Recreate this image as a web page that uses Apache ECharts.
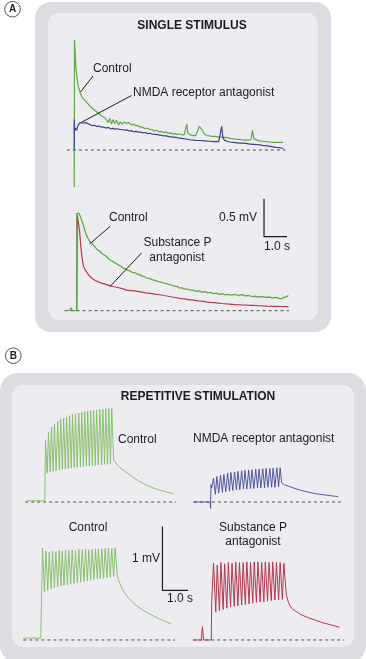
<!DOCTYPE html>
<html>
<head>
<meta charset="utf-8">
<script src="https://cdn.jsdelivr.net/npm/echarts@6/dist/echarts.min.js"></script>
<style>html,body{margin:0;padding:0;background:#fff}#c{width:366px;height:659px}</style>
</head>
<body>
<div id="c"></div>
<script>
// ---------- DATA (time in s, potential in mV) ----------
// Panel A, single stimulus, upper traces
const aControlUpper = [[0.62,0],[0.62,-0.49],[0.63,1.45],[0.70,1.05],[0.78,0.86],[0.87,0.76],[0.95,0.70],[1.03,0.67],[1.10,0.65],[1.18,0.62],[1.26,0.60],[1.33,0.57],[1.40,0.55],[1.48,0.53],[1.56,0.51],[1.64,0.49],[1.72,0.48],[1.80,0.45],[1.88,0.45],[1.96,0.42],[2.04,0.43],[2.10,0.36],[2.16,0.42],[2.24,0.34],[2.30,0.40],[2.38,0.35],[2.46,0.39],[2.54,0.33],[2.62,0.37],[2.70,0.34],[2.80,0.37],[2.90,0.35],[3.00,0.36],[3.10,0.33],[3.20,0.34],[3.30,0.32],[3.40,0.32],[3.50,0.30],[3.60,0.30],[3.70,0.28],[3.80,0.29],[3.90,0.27],[4.00,0.27],[4.10,0.25],[4.20,0.26],[4.30,0.24],[4.40,0.245],[4.50,0.23],[4.60,0.235],[4.70,0.22],[4.80,0.225],[4.90,0.21],[5.00,0.215],[5.10,0.205],[5.20,0.21],[5.30,0.20],[5.40,0.20],[5.46,0.21],[5.51,0.34],[5.56,0.22],[5.62,0.20],[5.70,0.195],[5.80,0.19],[5.90,0.19],[5.98,0.20],[6.06,0.31],[6.10,0.33],[6.18,0.26],[6.28,0.21],[6.40,0.19],[6.50,0.185],[6.60,0.18],[6.75,0.18],[6.90,0.17],[7.00,0.17],[7.15,0.165],[7.30,0.16],[7.45,0.15],[7.60,0.145],[7.75,0.14],[7.90,0.135],[8.05,0.13],[8.20,0.13],[8.30,0.135],[8.37,0.26],[8.42,0.15],[8.50,0.125],[8.65,0.12],[8.80,0.115],[8.95,0.11],[9.10,0.105],[9.25,0.10],[9.40,0.10],[9.55,0.10],[9.70,0.10]];
const aNmdaUpper = [[0.62,0],[0.62,0.40],[0.64,0.25],[0.66,0.29],[0.72,0.26],[0.78,0.32],[0.87,0.36],[0.95,0.37],[1.03,0.355],[1.12,0.36],[1.20,0.34],[1.30,0.335],[1.40,0.32],[1.50,0.325],[1.60,0.31],[1.70,0.315],[1.80,0.30],[1.90,0.30],[2.00,0.29],[2.10,0.295],[2.20,0.28],[2.30,0.285],[2.40,0.275],[2.50,0.28],[2.60,0.27],[2.70,0.27],[2.80,0.26],[2.90,0.265],[3.00,0.25],[3.10,0.255],[3.20,0.24],[3.30,0.245],[3.40,0.235],[3.50,0.235],[3.60,0.225],[3.70,0.23],[3.80,0.215],[3.90,0.22],[4.00,0.21],[4.15,0.205],[4.30,0.20],[4.45,0.19],[4.60,0.185],[4.75,0.175],[4.90,0.17],[5.05,0.165],[5.20,0.155],[5.35,0.15],[5.50,0.145],[5.65,0.135],[5.80,0.13],[5.95,0.125],[6.10,0.125],[6.30,0.12],[6.50,0.115],[6.70,0.11],[6.90,0.11],[6.98,0.13],[7.03,0.31],[7.08,0.17],[7.14,0.13],[7.25,0.115],[7.40,0.105],[7.55,0.10],[7.70,0.095],[7.85,0.09],[8.00,0.09],[8.20,0.08],[8.40,0.075],[8.60,0.07],[8.80,0.06],[9.00,0.055],[9.20,0.045],[9.40,0.035],[9.55,0.03],[9.71,0.02]];
const aBaselineUpper = [0.3, 9.8];
// Panel A, lower traces
const aControlLower = [[0.35,0],[0.45,0.01],[0.49,0.04],[0.53,0.0],[0.72,0.0],[0.73,1.28],[0.83,1.28],[0.91,1.22],[1.01,1.13],[1.13,1.01],[1.22,0.95],[1.30,0.91],[1.40,0.88],[1.52,0.84],[1.63,0.80],[1.74,0.78],[1.87,0.74],[2.00,0.72],[2.12,0.68],[2.22,0.66],[2.32,0.645],[2.45,0.62],[2.55,0.60],[2.65,0.585],[2.75,0.56],[2.85,0.55],[2.95,0.53],[3.05,0.525],[3.15,0.50],[3.26,0.50],[3.36,0.48],[3.46,0.475],[3.56,0.455],[3.66,0.45],[3.76,0.43],[3.88,0.425],[4.00,0.41],[4.12,0.40],[4.24,0.385],[4.35,0.38],[4.47,0.365],[4.59,0.36],[4.70,0.35],[4.82,0.34],[4.95,0.325],[5.07,0.32],[5.19,0.30],[5.31,0.30],[5.43,0.285],[5.55,0.285],[5.67,0.27],[5.80,0.27],[5.92,0.255],[6.05,0.26],[6.17,0.245],[6.30,0.25],[6.42,0.235],[6.55,0.24],[6.68,0.225],[6.80,0.23],[6.93,0.215],[7.05,0.225],[7.18,0.21],[7.30,0.215],[7.45,0.205],[7.60,0.215],[7.75,0.20],[7.90,0.21],[8.05,0.195],[8.20,0.20],[8.35,0.185],[8.50,0.19],[8.65,0.18],[8.80,0.185],[8.95,0.175],[9.10,0.18],[9.25,0.17],[9.40,0.175],[9.55,0.16],[9.65,0.16],[9.75,0.175],[9.85,0.185],[9.93,0.20]];
const aSubPLower = [[0.73,0],[0.75,1.26],[0.80,1.26],[0.85,1.05],[0.90,0.86],[0.95,0.72],[1.01,0.60],[1.07,0.55],[1.13,0.52],[1.22,0.48],[1.30,0.45],[1.41,0.42],[1.52,0.40],[1.63,0.385],[1.74,0.37],[1.95,0.35],[2.17,0.33],[2.35,0.315],[2.52,0.305],[2.70,0.29],[2.90,0.27],[3.08,0.265],[3.26,0.26],[3.44,0.25],[3.62,0.24],[3.81,0.23],[4.00,0.225],[4.17,0.215],[4.35,0.21],[4.52,0.20],[4.70,0.19],[4.88,0.18],[5.07,0.17],[5.25,0.16],[5.43,0.155],[5.60,0.145],[5.80,0.14],[6.00,0.13],[6.17,0.125],[6.35,0.115],[6.52,0.11],[6.70,0.105],[6.87,0.10],[7.05,0.095],[7.25,0.09],[7.60,0.08],[7.97,0.075],[8.35,0.07],[8.70,0.065],[9.00,0.06],[9.35,0.058],[9.65,0.055],[9.93,0.053]];
const aBaselineLower = [0.2, 9.95];
const aScaleBar = [[8.87,1.474],[8.87,0.974],[9.87,0.974]]; // 0.5 mV, 1.0 s

// Panel B, repetitive stimulation
// top-left: control
const b1Pre = [[0.18,0.02],[0.67,0.02]];
const b1PeakT = [0.69,0.77,0.85,0.93,1.02,1.10,1.18,1.26,1.34,1.42,1.50,1.59,1.67,1.75,1.83,1.91,1.99,2.07,2.16,2.24,2.32,2.40,2.48];
const b1PeakV = [0.96,1.09,1.17,1.22,1.26,1.29,1.31,1.33,1.35,1.37,1.38,1.39,1.40,1.41,1.42,1.43,1.43,1.44,1.45,1.45,1.46,1.46,1.46];
const b1TroughT = [0.735,0.815,0.895,0.975,1.065,1.145,1.225,1.305,1.385,1.465,1.545,1.635,1.715,1.795,1.875,1.955,2.035,2.115,2.205,2.285,2.365,2.445];
const b1TroughV = [0.45,0.47,0.48,0.49,0.50,0.51,0.52,0.52,0.53,0.54,0.54,0.55,0.55,0.56,0.56,0.57,0.57,0.58,0.58,0.59,0.59,0.60];
const b1Tail = [[2.53,0.66],[2.60,0.60],[2.70,0.54],[2.85,0.47],[3.00,0.41],[3.20,0.33],[3.40,0.27],[3.60,0.22],[3.80,0.18],[4.00,0.15],[4.15,0.13]];
const b1Baseline = [0.14, 4.22];
// top-right: NMDA receptor antagonist
const b2Pre = [[0.14,0.0],[0.60,0.0],[0.61,-0.10],[0.62,0.27],[0.64,0.22]];
const b2PeakT = [0.69,0.78,0.88,0.97,1.07,1.16,1.26,1.35,1.45,1.54,1.64,1.73,1.83,1.92,2.02,2.11,2.21,2.30,2.40,2.49];
const b2PeakV = [0.37,0.40,0.42,0.43,0.45,0.46,0.47,0.48,0.49,0.495,0.50,0.505,0.51,0.515,0.52,0.525,0.525,0.53,0.535,0.535];
const b2TroughT = [0.74,0.83,0.93,1.02,1.12,1.21,1.31,1.40,1.50,1.59,1.69,1.78,1.88,1.97,2.07,2.16,2.26,2.35,2.45];
const b2TroughV = [0.12,0.14,0.15,0.16,0.17,0.18,0.19,0.19,0.20,0.20,0.21,0.21,0.22,0.22,0.22,0.23,0.23,0.23,0.24];
const b2Tail = [[2.53,0.30],[2.60,0.27],[2.75,0.24],[2.95,0.20],[3.20,0.16],[3.45,0.13],[3.70,0.11],[3.90,0.095],[4.06,0.085]];
const b2Baseline = [0.16, 4.19];
// bottom-left: control
const b3Pre = [[0.09,0.03],[0.56,0.03]];
const b3PeakT = [0.61,0.70,0.79,0.88,0.97,1.06,1.14,1.23,1.32,1.41,1.50,1.59,1.68,1.77,1.86,1.95,2.04,2.12,2.21,2.30,2.39,2.48,2.57];
const b3PeakV = [1.45,1.40,1.38,1.40,1.39,1.41,1.40,1.42,1.41,1.42,1.41,1.43,1.42,1.43,1.42,1.43,1.44,1.43,1.44,1.44,1.45,1.44,1.45];
const b3TroughT = [0.66,0.75,0.84,0.93,1.02,1.11,1.19,1.28,1.37,1.46,1.55,1.64,1.73,1.82,1.91,2.00,2.09,2.17,2.26,2.35,2.44,2.53];
const b3TroughV = [0.76,0.78,0.80,0.82,0.84,0.85,0.86,0.87,0.88,0.89,0.90,0.91,0.92,0.93,0.94,0.95,0.96,0.97,0.97,0.98,0.99,1.00];
const b3Tail = [[2.63,1.00],[2.68,0.92],[2.75,0.82],[2.85,0.72],[3.00,0.62],[3.15,0.54],[3.35,0.46],[3.60,0.38],[3.85,0.31],[4.10,0.25]];
const b3Baseline = [0.09, 4.19];
const bScaleBar = [[3.85,1.79],[3.85,0.78],[4.85,0.78]]; // 1 mV, 1.0 s
// bottom-right: substance P antagonist
const b4Pre = [[0.14,0.0],[0.36,0.0],[0.39,0.21],[0.42,0.0],[0.63,0.0],[0.64,0.6]];
const b4PeakT = [0.69,0.79,0.89,0.99,1.09,1.19,1.29,1.39,1.49,1.59,1.69,1.79,1.89,1.99,2.09,2.19,2.29,2.39,2.49,2.59];
const b4PeakV = [1.21,1.18,1.22,1.20,1.22,1.21,1.23,1.22,1.22,1.23,1.22,1.23,1.23,1.22,1.23,1.22,1.23,1.22,1.22,1.21];
const b4TroughT = [0.75,0.85,0.95,1.05,1.15,1.25,1.35,1.45,1.55,1.65,1.75,1.85,1.95,2.05,2.15,2.25,2.35,2.45,2.55];
const b4TroughV = [0.44,0.46,0.48,0.50,0.52,0.53,0.54,0.55,0.56,0.57,0.58,0.59,0.60,0.60,0.61,0.62,0.63,0.63,0.64];
const b4Tail = [[2.66,0.70],[2.72,0.58],[2.80,0.50],[2.92,0.45],[3.05,0.40],[3.25,0.35],[3.45,0.31],[3.65,0.27],[3.85,0.24],[4.10,0.20]];
const b4Baseline = [0.14, 4.22];

// ---------- BUILD ----------
function train(pre, pT, pV, tT, tV, tail) {
  const d = pre.slice();
  for (let i = 0; i < pT.length; i++) {
    d.push([pT[i], pV[i]]);
    if (i < tT.length) d.push([tT[i], tV[i]]);
  }
  return d.concat(tail);
}
function base(r) { return [[r[0], 0], [r[1], 0]]; }

const FONT = '"Liberation Sans", Arial, Helvetica, sans-serif';
const C = {
  aGreen: '#5fa845', blue: '#3b3f8e', red: '#b3394c',
  bGreen: '#80bc62', bBlue: '#434894', bRed: '#b5384d', dash: '#4a4a4a', ink: '#1c1c1c'
};

const grids = [
  {left: 60, top: 36, width: 230, height: 152},      // A upper
  {left: 60, top: 189.1, width: 230, height: 136.8}, // A lower
  {left: 20, top: 406, width: 166.5, height: 115.2},  // B top-left
  {left: 188, top: 406, width: 166.5, height: 115.2}, // B top-right
  {left: 20, top: 519.4, width: 166.5, height: 140.8},// B bottom-left
  {left: 188, top: 519.4, width: 166.5, height: 140.8}// B bottom-right
];
const xr = [[0,10],[0,10],[0,4.5],[0,4.5],[0,4.5],[0,4.5]];
const yr = [[-0.5,1.5],[-0.2,1.6],[-0.3,1.5],[-0.3,1.5],[-0.3,1.9],[-0.3,1.9]];

function ln(idx, data, color, w, extra) {
  return Object.assign({
    type: 'line', xAxisIndex: idx, yAxisIndex: idx, data: data, symbol: 'none',
    lineStyle: {color: color, width: w}, silent: true, animation: false, z: 3
  }, extra || {});
}
function dashed(idx, r) {
  return ln(idx, base(r), C.dash, 1, {lineStyle: {color: C.dash, width: 1, type: [3, 3]}, z: 2});
}

const series = [
  dashed(0, aBaselineUpper),
  ln(0, aControlUpper, C.aGreen, 1.2),
  ln(0, aNmdaUpper, C.blue, 1.2),
  dashed(1, aBaselineLower),
  ln(1, aSubPLower, C.red, 1.2),
  ln(1, aControlLower, C.aGreen, 1.3),
  ln(1, aScaleBar, C.ink, 1.2),
  dashed(2, b1Baseline),
  ln(2, train(b1Pre, b1PeakT, b1PeakV, b1TroughT, b1TroughV, b1Tail), C.bGreen, 0.9),
  dashed(3, b2Baseline),
  ln(3, train(b2Pre, b2PeakT, b2PeakV, b2TroughT, b2TroughV, b2Tail), C.bBlue, 0.9),
  dashed(4, b3Baseline),
  ln(4, train(b3Pre, b3PeakT, b3PeakV, b3TroughT, b3TroughV, b3Tail), C.bGreen, 0.9),
  ln(4, bScaleBar, C.ink, 1.2),
  dashed(5, b4Baseline),
  ln(5, train(b4Pre, b4PeakT, b4PeakV, b4TroughT, b4TroughV, b4Tail), C.bRed, 1)
];

function txt(x, y, s, align, bold) {
  return {type: 'text', x: x, y: y, z: 100, silent: true,
    style: {text: s, font: (bold ? 'bold ' : '') + '12px ' + FONT, fill: C.ink,
      align: align || 'left', verticalAlign: 'middle', textAlign: align || 'left', textVerticalAlign: 'middle'}};
}
function seg(x1, y1, x2, y2) {
  return {type: 'line', z: 100, silent: true, shape: {x1: x1, y1: y1, x2: x2, y2: y2},
    style: {stroke: C.ink, lineWidth: 1}};
}
function rrect(x, y, w, h, r, fill, z) {
  return {type: 'rect', z: z, silent: true, shape: {x: x, y: y, width: w, height: h, r: r}, style: {fill: fill}};
}
function badge(cx, cy, s) {
  return [
    {type: 'circle', z: 100, silent: true, shape: {cx: cx, cy: cy, r: 7.8}, style: {fill: '#fff', stroke: '#555', lineWidth: 1}},
    {type: 'text', x: cx, y: cy + 0.5, z: 101, silent: true,
      style: {text: s, font: 'bold 10px ' + FONT, fill: C.ink, align: 'center', verticalAlign: 'middle', textAlign: 'center', textVerticalAlign: 'middle'}}
  ];
}

const graphic = [
  rrect(35, 2, 296, 330, 16, '#dcdce1', -20),
  rrect(48, 13, 270, 307, 11, '#ededf1', -19),
  rrect(0, 373, 366, 290, 18, '#dcdce1', -20),
  rrect(12, 385, 342, 262, 11, '#ededf1', -19),
  ...badge(12.5, 9.2, 'A'),
  ...badge(13.3, 355.7, 'B'),
  txt(192, 26, 'SINGLE STIMULUS', 'center', true),
  txt(198, 397, 'REPETITIVE STIMULATION', 'center', true),
  txt(93, 68.5, 'Control'),
  seg(93, 76, 80.5, 92),
  txt(133, 93, 'NMDA receptor antagonist'),
  seg(131.5, 95.5, 82, 122),
  txt(109, 218, 'Control'),
  seg(110, 226.5, 89.5, 244),
  txt(177.5, 243, 'Substance P', 'center'),
  txt(177, 257.5, 'antagonist', 'center'),
  seg(141.5, 253, 110, 286.5),
  txt(257, 218, '0.5 mV', 'right'),
  txt(277, 247, '1.0 s', 'center'),
  txt(118, 440, 'Control'),
  txt(193, 439, 'NMDA receptor antagonist'),
  txt(88, 528, 'Control', 'center'),
  txt(253, 528, 'Substance P', 'center'),
  txt(253, 542, 'antagonist', 'center'),
  txt(160, 559, '1 mV', 'right'),
  txt(180, 599, '1.0 s', 'center')
];

const chart = echarts.init(document.getElementById('c'), null, {renderer: 'canvas'});
chart.setOption({
  animation: false,
  backgroundColor: '#ffffff',
  grid: grids.map(g => Object.assign({containLabel: false, show: false}, g)),
  xAxis: xr.map((r, i) => ({type: 'value', gridIndex: i, min: r[0], max: r[1], show: false})),
  yAxis: yr.map((r, i) => ({type: 'value', gridIndex: i, min: r[0], max: r[1], show: false})),
  series: series,
  graphic: graphic
});
</script>
</body>
</html>
